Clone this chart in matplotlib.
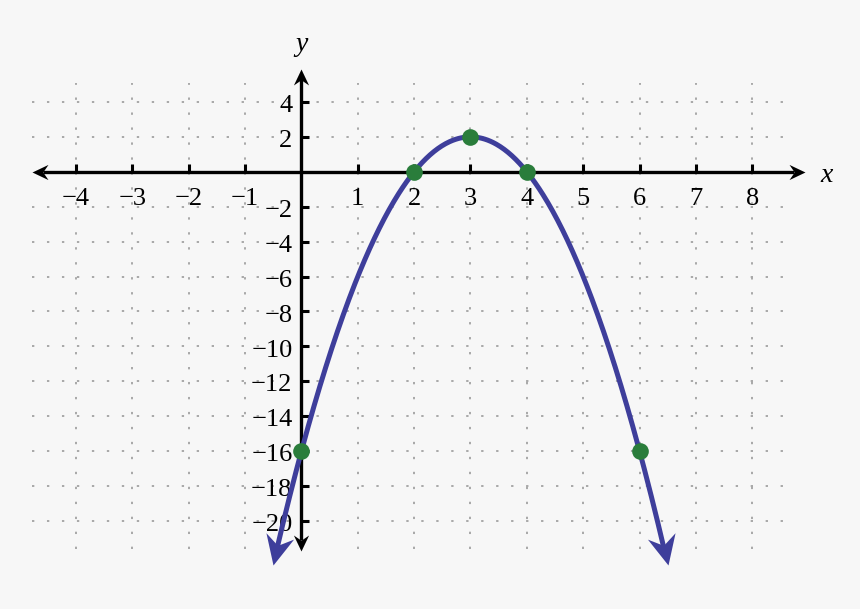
import numpy as np
import matplotlib.pyplot as plt
from matplotlib.path import Path
from matplotlib.markers import MarkerStyle
from matplotlib.transforms import Affine2D

plt.rcParams['font.family'] = ['Liberation Serif', 'DejaVu Serif']

# data
x_ticks = [-4, -3, -2, -1, 1, 2, 3, 4, 5, 6, 7, 8]
y_ticks = [4, 2, -2, -4, -6, -8, -10, -12, -14, -16, -18, -20]
x_tick_labels = ['−4', '−3', '−2', '−1', '1', '2', '3', '4', '5', '6', '7', '8']
y_tick_labels = ['4', '2', '−2', '−4', '−6', '−8', '−10', '−12', '−14', '−16', '−18', '−20']
point_x = [0, 2, 3, 4, 6]
point_y = [-16, 0, 2, 0, -16]
curve_start, curve_end = -0.5, 6.5


def f(x):
    return -2 * (x - 2) * (x - 4)


bg = '#f7f7f7'
curve_color = '#3e3e9b'
dot_color = '#2a7d3b'
grid_color = '#a8a8a8'

fig = plt.figure(figsize=(8.6, 6.09), dpi=100, facecolor=bg)
ax = fig.add_axes([0, 0, 1, 1])
ax.set_facecolor(bg)
ax.set_xlim(-5.348, 9.911)
ax.set_ylim(-25.04, 9.84)
ax.axis('off')

# dotted grid
ax.hlines(y_ticks, -4.78, 8.75, colors=grid_color, lw=1.4,
          linestyles=[(0, (1.2, 6.5))], zorder=1)
ax.vlines(x_ticks, -21.6, 5.1, colors=grid_color, lw=1.4,
          linestyles=[(0, (1.2, 6.5))], zorder=1)


def stealth(angle):
    verts = [(0, 0), (-2, 0.95), (-1.35, 0), (-2, -0.95), (0, 0)]
    codes = [Path.MOVETO, Path.LINETO, Path.LINETO, Path.LINETO, Path.CLOSEPOLY]
    return MarkerStyle(Path(verts, codes), transform=Affine2D().rotate_deg(angle))


def screen_angle(p0, p1):
    a = ax.transData.transform(p0)
    b = ax.transData.transform(p1)
    return np.degrees(np.arctan2(b[1] - a[1], b[0] - a[0]))


# axes with arrows
x_left, x_right = -4.78, 8.94
y_bottom, y_top = -21.7, 5.9
ax.plot([x_left + 0.2, x_right - 0.2], [0, 0], color='black', lw=2.4, zorder=3,
        solid_capstyle='butt')
ax.plot([0, 0], [y_bottom + 0.6, y_top - 0.6], color='black', lw=2.4, zorder=3,
        solid_capstyle='butt')
for px, py, ang in [(x_left, 0, 180), (x_right, 0, 0), (0, y_top, 90), (0, y_bottom, -90)]:
    ax.plot(px, py, marker=stealth(ang), ms=23, color='black', mew=0, zorder=3)

# tick marks
ax.vlines(x_ticks, 0, 0.45, colors='black', lw=2.2, zorder=3)
ax.hlines(y_ticks, 0, 0.14, colors='black', lw=2.2, zorder=3)

# tick labels
for xt, lab in zip(x_ticks, x_tick_labels):
    ax.text(xt, -1.9, lab, ha='center', va='baseline', fontsize=19, zorder=2)
for yt, lab in zip(y_ticks, y_tick_labels):
    ax.text(-0.16, yt - 0.58, lab, ha='right', va='baseline', fontsize=19, zorder=2)

ax.text(0, 6.9, 'y', ha='center', va='baseline', fontsize=20, style='italic')
ax.text(9.2, -0.6, 'x', ha='left', va='baseline', fontsize=20, style='italic')

# curve
xs = np.linspace(curve_start + 0.05, curve_end - 0.05, 400)
ax.plot(xs, f(xs), color=curve_color, lw=3.6, zorder=4, solid_capstyle='butt')
for end, inner in [(curve_start, curve_start + 0.05), (curve_end, curve_end - 0.05)]:
    ang = screen_angle((inner, f(inner)), (end, f(end)))
    ax.plot(end, f(end), marker=stealth(ang), ms=43, color=curve_color, mew=0, zorder=4)

# points
ax.plot(point_x, point_y, 'o', ms=12, color=dot_color, mew=0, zorder=5)

fig.savefig('out.png', dpi=100, facecolor=bg)
